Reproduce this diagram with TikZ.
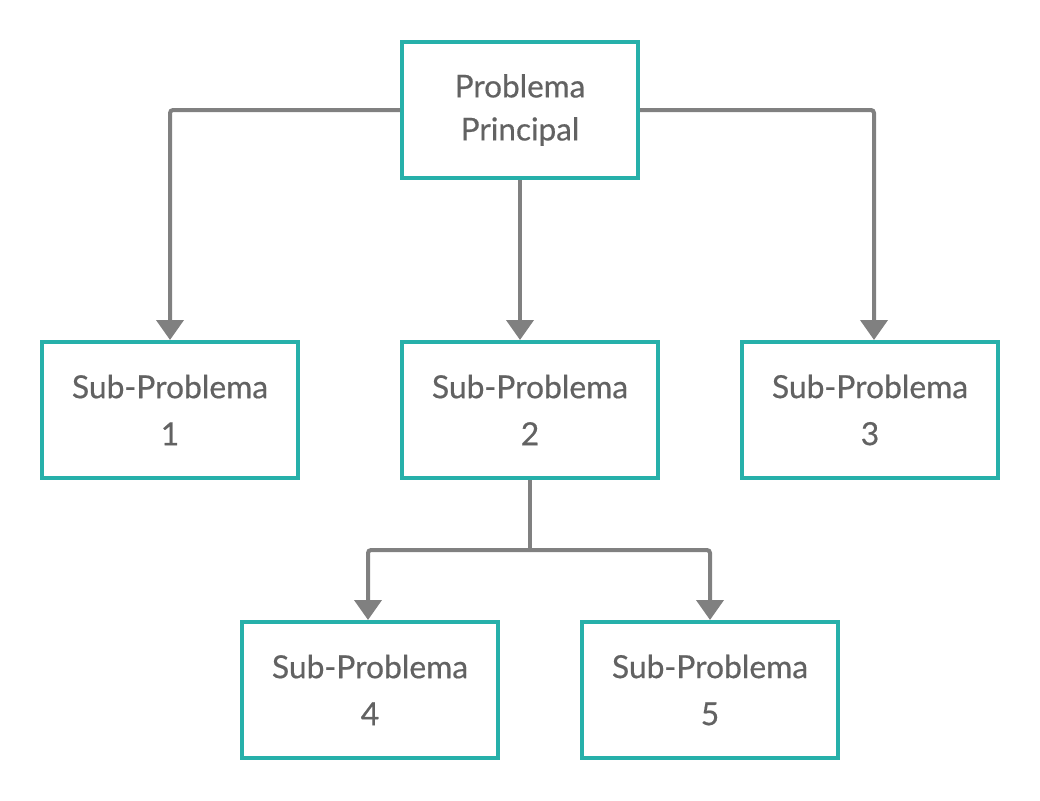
\documentclass[tikz,border=0pt]{standalone}
\usepackage{fontspec}
\setmainfont{Lato}
\newfontfamily\semib[FakeBold=0.5]{Lato}
\usetikzlibrary{arrows.meta}
\definecolor{boxteal}{HTML}{26B0AA}
\definecolor{linegray}{HTML}{808080}
\definecolor{txtgray}{HTML}{626262}
\begin{document}
\begin{tikzpicture}[x=1pt,y=-1pt,
  box/.style={draw=boxteal,line width=4pt,fill=white,minimum width=256pt,minimum height=136pt,inner sep=0pt,align=center,text=txtgray,font=\semib\fontsize{31.8}{47}\selectfont,execute at begin node={\rule{0pt}{30pt}}},
  topbox/.style={box,minimum width=236pt,font=\semib\fontsize{31.5}{43}\selectfont},
  conn/.style={draw=linegray,line width=4pt,rounded corners=3pt},
  arr/.style={conn,-{Triangle[width=27pt,length=20pt]}}]
\useasboundingbox (0,0) rectangle (1040,800);
\node[topbox] (top) at (520,110) {Problema\\Principal};
\node[box] (s1) at (170,410) {Sub-Problema\\1};
\node[box] (s2) at (530,410) {Sub-Problema\\2};
\node[box] (s3) at (870,410) {Sub-Problema\\3};
\node[box] (s4) at (370,690) {Sub-Problema\\4};
\node[box] (s5) at (710,690) {Sub-Problema\\5};
\coordinate (j) at (530,550);
\draw[arr] (top.west) -| (s1.north);
\draw[arr] (top.east) -| ([xshift=4pt]s3.north);
\draw[arr] (top.south) -- (top.south |- s2.north);
\draw[conn] (s2.south) -- (j);
\draw[arr] (j) -| ([xshift=-2pt]s4.north);
\draw[arr] (j) -| (s5.north);
\end{tikzpicture}
\end{document}
